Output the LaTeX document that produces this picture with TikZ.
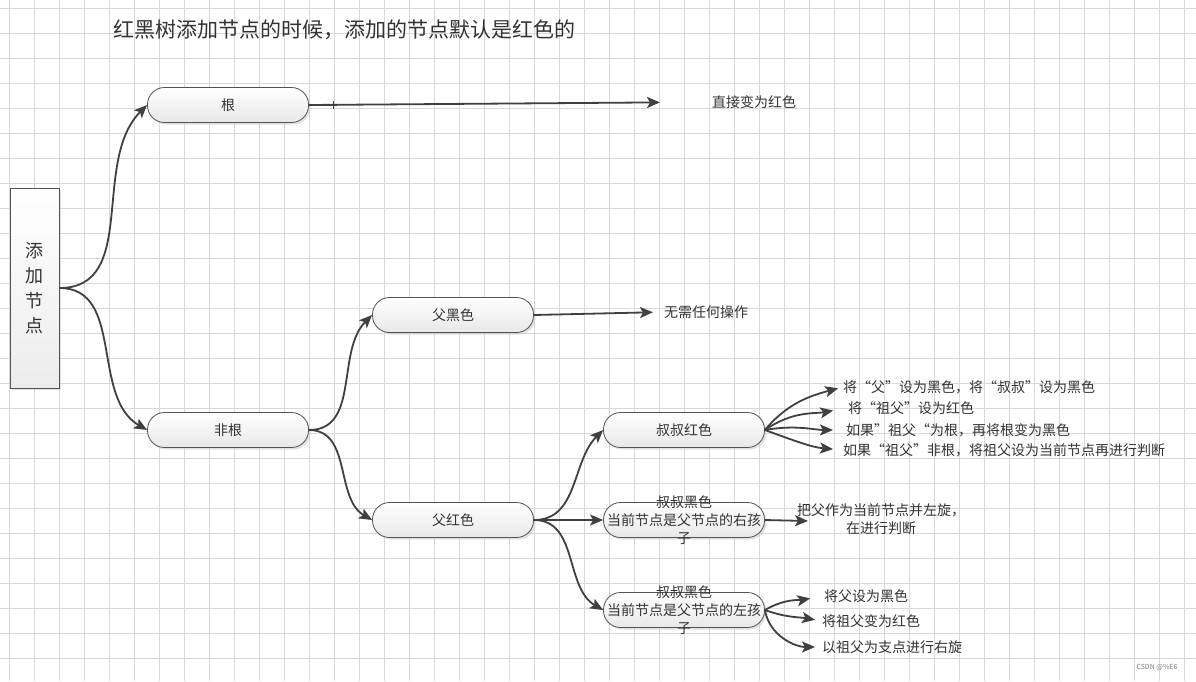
\documentclass[tikz,border=0pt]{standalone}
\usepackage{fontspec}
\setmainfont{Noto Sans CJK SC}
\usetikzlibrary{arrows.meta,shadows}

\definecolor{linec}{HTML}{404040}
\definecolor{textc}{HTML}{333333}
\definecolor{gridc}{HTML}{D9D9D9}

\begin{document}
\begin{tikzpicture}[x=1pt, y=-1pt,
  conn/.style={draw=linec, line width=1.8pt, -{Stealth[length=13pt,width=11pt,inset=3pt]}},
  pill/.style={draw=linec!90, line width=0.8pt, rounded corners=17pt,
    minimum width=161pt, minimum height=35pt, top color=white, bottom color=gray!18,
    drop shadow={shadow xshift=2pt, shadow yshift=-2pt, fill=gray!45}},
  lbl/.style={text=textc, font=\fontsize{14}{18}\selectfont, inner sep=0pt}]
  \useasboundingbox (0,0) rectangle (1196,681);
  \fill[white] (0,0) rectangle (1196,681);

  % grid
  \foreach \x in {9,34,...,1196} {
    \draw[gridc, line width=0.8pt] (\x,0) -- (\x,681);
  }
  \foreach \y in {8,33,...,681} {
    \draw[gridc, line width=0.8pt] (0,\y) -- (1196,\y);
  }

  \node[text=textc, font=\fontsize{21}{24}\selectfont, anchor=west, inner sep=0pt] (title) at (113,30)
    {红黑树添加节点的时候，添加的节点默认是红色的};

  % boxes
  \node[draw=linec!90, line width=0.8pt, minimum width=49pt, minimum height=200pt,
    top color=white, bottom color=gray!15, drop shadow={shadow xshift=2pt, shadow yshift=-2pt, fill=gray!45},
    text=textc, font=\fontsize{18}{25}\selectfont, align=center] (add) at (34.5,288) {添\\加\\节\\点};
  \node[pill, lbl] (gen) at (228,105) {根};
  \node[pill, lbl] (feigen) at (228,430) {非根};
  \node[pill, lbl] (fuhei) at (453,315) {父黑色};
  \node[pill, lbl] (fuhong) at (453,520) {父红色};
  \node[pill, lbl] (shuhong) at (684,430) {叔叔红色};
  \node[pill] (rchild) at (684,520) {};
  \node[lbl, align=center] (rtext) at (rchild) {叔叔黑色\\当前节点是父节点的右孩\\子};
  \node[pill] (lchild) at (684,610) {};
  \node[lbl, align=center] (ltext) at (lchild) {叔叔黑色\\当前节点是父节点的左孩\\子};

  % results
  \node[lbl, anchor=west] (zhijie) at (712,102) {直接变为红色};
  \node[lbl, anchor=west] (wuxu) at (664,312) {无需任何操作};
  \node[lbl, anchor=west] (a1) at (843,387) {将“父”设为黑色，将“叔叔”设为黑色};
  \node[lbl, anchor=west] (a2) at (848,408) {将“祖父”设为红色};
  \node[lbl, anchor=west] (a3) at (846,430) {如果”祖父“为根，再将根变为黑色};
  \node[lbl, anchor=west] (a4) at (843,450) {如果“祖父”非根，将祖父设为当前节点再进行判断};
  \node[lbl, align=center] (b1) at (881,519) {把父作为当前节点并左旋，\\在进行判断};
  \coordinate (b1end) at (808,521);
  \node[lbl, anchor=west] (c1) at (824,596) {将父设为黑色};
  \node[lbl, anchor=west] (c2) at (822,621) {将祖父变为红色};
  \node[lbl, anchor=west] (c3) at (822,647) {以祖父为支点进行右旋};

  % connectors
  \draw[conn] (add.east) to[out=0, in=-135] (gen.west);
  \draw[conn] (add.east) to[out=0, in=150] (feigen.west);
  \draw[conn, shorten >=52pt] (gen.east) -- (zhijie.west);
  \draw[linec, line width=0.6pt] (333,101) -- (333,109) (329,105) -- (337,105);
  \draw[conn] (feigen.east) to[out=0, in=-135] (fuhei.west);
  \draw[conn] (feigen.east) to[out=0, in=150] (fuhong.west);
  \draw[conn, shorten >=11pt] (fuhei.east) -- (wuxu.west);
  \draw[conn] (fuhong.east) to[out=0, in=-135] (shuhong.west);
  \draw[conn] (fuhong.east) -- (rchild.west);
  \draw[conn] (fuhong.east) to[out=0, in=150] (lchild.west);
  \draw[conn, shorten >=5pt] (shuhong.east) to[out=50, in=195] (a1.west);
  \draw[conn, shorten >=15pt] (shuhong.east) to[out=35, in=190] (a2.west);
  \draw[conn, shorten >=13pt] (shuhong.east) to[out=10, in=180] (a3.west);
  \draw[conn, shorten >=10pt] (shuhong.east) to[out=-20, in=175] (a4.west);
  \draw[conn] (rchild.east) -- (b1end);
  \draw[conn, shorten >=14pt] (lchild.east) to[out=30, in=190] (c1.west);
  \draw[conn, shorten >=7pt] (lchild.east) to[out=-20, in=170] (c2.west);
  \draw[conn, shorten >=7pt] (lchild.east) to[out=-80, in=180] (c3.west);

  \node[text=gray, font=\fontsize{7}{8}\selectfont] (mark) at (1157,667) {CSDN @\%E6};
\end{tikzpicture}
\end{document}
